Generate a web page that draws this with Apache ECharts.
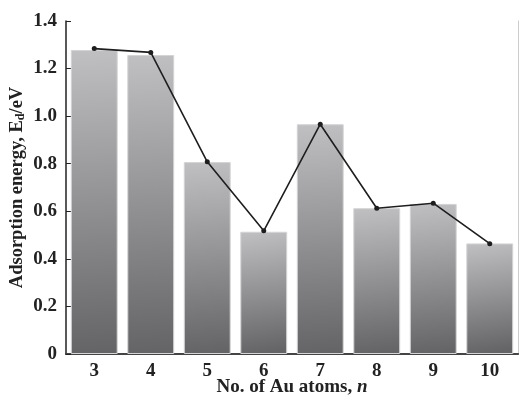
<!DOCTYPE html>
<html>
<head>
<meta charset="utf-8">
<script src="https://cdn.jsdelivr.net/npm/echarts@6/dist/echarts.min.js"></script>
<style>
  html,body{margin:0;padding:0;background:#fff;}
  #chart{width:519px;height:399px;}
</style>
</head>
<body>
<div id="chart"></div>
<script>
  // data
  var atoms = ['3', '4', '5', '6', '7', '8', '9', '10'];
  var barValues = [1.278, 1.257, 0.807, 0.514, 0.966, 0.613, 0.631, 0.465];
  var lineValues = [1.284, 1.268, 0.808, 0.518, 0.966, 0.613, 0.634, 0.464];
  var yTicks = [0, 0.2, 0.4, 0.6, 0.8, 1.0, 1.2, 1.4];

  var font = 'Liberation Serif';
  var myChart = echarts.init(document.getElementById('chart'));
  myChart.setOption({
    animation: false,
    grid: {left: 66, right: 1, top: 21, bottom: 45, containLabel: false, outerBoundsMode: 'none'},
    xAxis: [{
      type: 'category',
      data: atoms,
      boundaryGap: true,
      axisLine: {lineStyle: {color: '#222', width: 1.5}},
      axisTick: {alignWithLabel: true, inside: true, length: 5, lineStyle: {color: '#222'}},
      axisLabel: {fontFamily: font, fontWeight: 'bold', fontSize: 19, color: '#222', margin: 8},
      name: '{a|No. of Au atoms, }{i|n}',
      nameLocation: 'middle',
      nameGap: 24,
      nameMoveOverlap: false,
      nameTextStyle: {
        rich: {
          a: {fontFamily: font, fontWeight: 'bold', fontSize: 19, color: '#222'},
          i: {fontFamily: font, fontWeight: 'bold', fontStyle: 'italic', fontSize: 19, color: '#222'}
        }
      }
    }, {
      type: 'category',
      data: atoms,
      position: 'top',
      axisLine: {lineStyle: {color: '#444', width: 2}},
      axisTick: {show: false},
      axisLabel: {show: false}
    }],
    yAxis: [{
      type: 'value',
      min: 0,
      max: yTicks[yTicks.length - 1],
      interval: 0.2,
      splitLine: {show: false},
      axisLine: {show: true, lineStyle: {color: '#222', width: 1.5}},
      axisTick: {show: true, inside: true, length: 5, lineStyle: {color: '#222'}},
      axisLabel: {
        fontFamily: font, fontWeight: 'bold', fontSize: 19, color: '#222', margin: 9,
        formatter: function (v) { return v === 0 ? '0' : v.toFixed(1); }
      },
      name: '{a|Adsorption energy, E}{s|d}{a|/eV}',
      nameLocation: 'middle',
      nameGap: 39,
      nameMoveOverlap: false,
      nameRotate: 90,
      nameTextStyle: {
        rich: {
          a: {fontFamily: font, fontWeight: 'bold', fontSize: 18.5, color: '#222'},
          s: {fontFamily: font, fontWeight: 'bold', fontSize: 12, color: '#222', verticalAlign: 'bottom', padding: [7, 0, 0, 0]}
        }
      }
    }, {
      type: 'value',
      position: 'right',
      min: 0,
      max: 1.4,
      interval: 0.2,
      splitLine: {show: false},
      axisLine: {show: true, lineStyle: {color: '#ccc', width: 1}},
      axisTick: {show: false},
      axisLabel: {show: false}
    }],
    series: [{
      type: 'bar',
      data: barValues,
      barCategoryGap: '17%',
      itemStyle: {
        color: new echarts.graphic.LinearGradient(0, 0, 0.35, 1, [
          {offset: 0, color: '#c0c0c3'},
          {offset: 1, color: '#646466'}
        ]),
        borderColor: '#d4d4d6',
        borderWidth: 1
      }
    }, {
      type: 'line',
      data: lineValues,
      symbol: 'circle',
      symbolSize: 5,
      lineStyle: {color: '#1e1e1e', width: 1.6},
      itemStyle: {color: '#1e1e1e'},
      z: 5
    }]
  });
</script>
</body>
</html>
